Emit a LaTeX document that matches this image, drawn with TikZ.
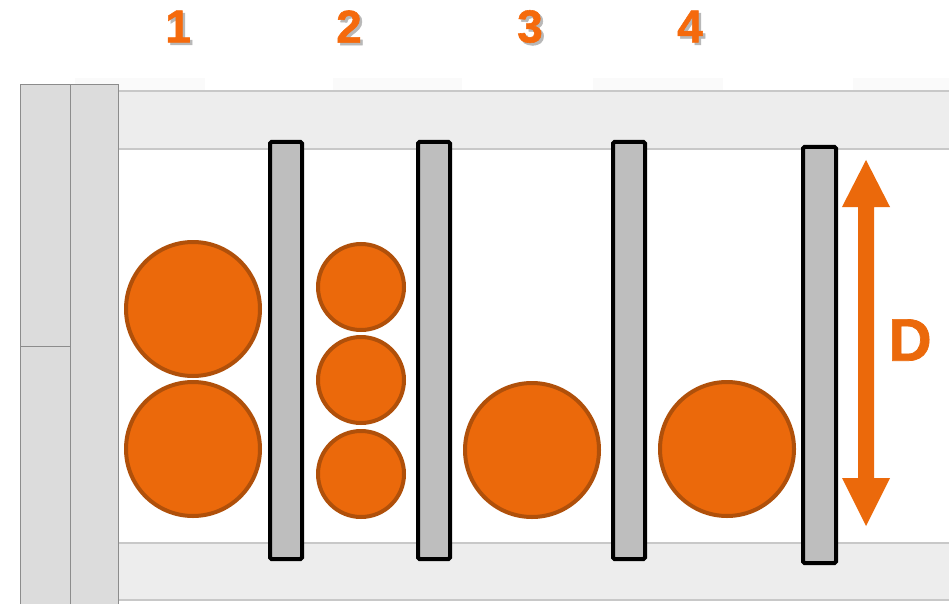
\documentclass[tikz,border=0pt]{standalone}
\usepackage{fontspec}
\setmainfont{Liberation Sans}
\newfontfamily\heavyfont[FakeBold=1.2]{Liberation Sans Bold}
\definecolor{orng}{HTML}{EB690B}
\definecolor{orngdark}{HTML}{B0500A}
\definecolor{numor}{HTML}{F56A0C}
\definecolor{plategray}{HTML}{BEBEBE}
\definecolor{railfill}{HTML}{EDEDED}
\definecolor{railline}{HTML}{C8C8C8}
\definecolor{colfill}{HTML}{DCDCDC}
\definecolor{colline}{HTML}{8C8C8C}
\tikzset{
  ball/.style={circle, fill=orng, draw=orngdark, line width=4pt, inner sep=0pt},
  plate/.style={fill=plategray, draw=black, line width=4pt, rounded corners=1.5pt},
  rail/.style={fill=railfill, draw=none},
  railedge/.style={draw=railline, line width=1.5pt},
  colbox/.style={fill=colfill, draw=colline, line width=1pt},
  numlabel/.style={font=\fontsize{46}{46}\selectfont\heavyfont, text=numor, inner sep=0pt},
  numshadow/.style={font=\fontsize{46}{46}\selectfont\heavyfont, text=black!28, inner sep=0pt},
}
\begin{document}
\begin{tikzpicture}[x=1pt,y=-1pt]
\useasboundingbox (0,0) rectangle (949,604);
\fill[white] (0,0) rectangle (949,604);
% faint strips above top rail
\foreach \a/\b in {75/205,333/462,593/723,853/949}
  \fill[black!2] (\a,78) rectangle (\b,90);
% rails
\fill[rail] (118,91) rectangle (949,149);
\draw[railedge] (118,91) -- (949,91);
\draw[railedge] (118,149) -- (949,149);
\fill[rail] (118,543) rectangle (949,600);
\draw[railedge] (118,543) -- (949,543);
\draw[railedge] (118,600) -- (949,600);
% left columns
\draw[colbox] (20,85) rectangle (70,606);
\draw[colbox] (70,85) rectangle (118,606);
\draw[colline, line width=1pt] (20,346) -- (70,346);
% plates
\draw[plate] (270,142) rectangle (302,559);
\draw[plate] (418,142) rectangle (450,559);
\draw[plate] (613,142) rectangle (645,559);
\draw[plate] (803,147) rectangle (836,563);
% balls
\node[ball, minimum size=134pt] (b1a) at (193,309) {};
\node[ball, minimum size=134pt] (b1b) at (193,449) {};
\node[ball, minimum size=86pt] (b2a) at (361,287) {};
\node[ball, minimum size=86pt] (b2b) at (361,380) {};
\node[ball, minimum size=86pt] (b2c) at (361,474) {};
\node[ball, minimum size=134pt] (b3) at (532,450) {};
\node[ball, minimum size=134pt] (b4) at (727,449) {};
% double arrow D
\fill[orng] (866,160) -- (890,207) -- (874,207) -- (874,478) -- (890,478)
  -- (866,526) -- (842,478) -- (858,478) -- (858,207) -- (842,207) -- cycle;
\node[font=\fontsize{60}{60}\selectfont\heavyfont, text=orng, inner sep=0pt] (dlab) at (910,340) {D};
% numbers
\foreach \n/\x in {1/178,2/349,3/530,4/690}{
  \node[numshadow] at (\x+2.5,29) {\n};
  \node[numlabel] (n\n) at (\x,26.5) {\n};
}
\end{tikzpicture}
\end{document}
